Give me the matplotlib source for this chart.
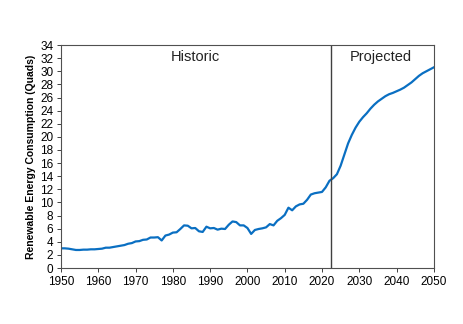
import matplotlib
matplotlib.use("Agg")
import matplotlib.pyplot as plt
import numpy as np

plt.rcParams['font.family'] = ['Liberation Sans', 'DejaVu Sans']

# renewable energy consumption, quads (historic to 2022, projected after)
years = list(range(1950, 2051))
quads = [3.0, 3.0, 2.95, 2.85, 2.75, 2.75, 2.8, 2.8, 2.85, 2.85,
         2.9, 2.95, 3.1, 3.1, 3.2, 3.3, 3.4, 3.5, 3.7, 3.8,
         4.05, 4.1, 4.3, 4.35, 4.65, 4.65, 4.7, 4.2, 4.95, 5.1,
         5.4, 5.45, 5.95, 6.5, 6.45, 6.05, 6.1, 5.6, 5.5, 6.3,
         6.05, 6.1, 5.85, 6.0, 5.95, 6.6, 7.1, 7.0, 6.5, 6.5,
         6.1, 5.2, 5.8, 5.95, 6.05, 6.2, 6.7, 6.5, 7.2, 7.6,
         8.1, 9.2, 8.8, 9.4, 9.7, 9.8, 10.4, 11.2, 11.4, 11.5,
         11.6, 12.3, 13.3, 13.7, 14.3, 15.6, 17.3, 19.0, 20.3, 21.4,
         22.3, 23.0, 23.6, 24.3, 24.9, 25.4, 25.8, 26.2, 26.5, 26.7,
         26.95, 27.2, 27.5, 27.9, 28.3, 28.8, 29.3, 29.7, 30.0, 30.3,
         30.6]
split_year = 2022.3
x_ticks = list(range(1950, 2051, 10))
y_ticks = list(range(0, 35, 2))

fig = plt.figure(figsize=(4.64, 3.24), dpi=100)
ax = fig.add_axes([0.1315, 0.1728, 0.8035, 0.6882])

ax.plot(years, quads, color='#0a6fc2', lw=1.6)
ax.axvline(split_year, color='#404040', lw=1.0)

ax.text(1986, 32.2, "Historic", ha='center', va='center', fontsize=10.5, color='#222222')
ax.text(2035.8, 32.2, "Projected", ha='center', va='center', fontsize=10.5, color='#222222')

ax.set_xlim(1950, 2050)
ax.set_ylim(0, 34)
ax.set_xticks(x_ticks)
ax.set_yticks(y_ticks)
ax.tick_params(labelsize=8.5, length=3, width=0.7, color='#404040', direction='out', pad=2.5)
ax.set_ylabel("Renewable Energy Consumption (Quads)", fontsize=7.5, fontweight='bold', labelpad=3)
for s in ax.spines.values():
    s.set_color('#505050')
    s.set_linewidth(0.8)

fig.savefig("out.png", dpi=100)
